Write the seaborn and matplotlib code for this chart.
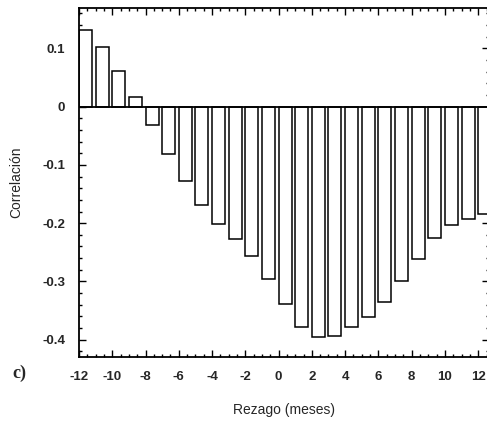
import numpy as np
import pandas as pd
import matplotlib
matplotlib.use("Agg")
import matplotlib.pyplot as plt
from matplotlib.ticker import FixedLocator, MultipleLocator
import seaborn as sns

# ---- data ----
lags = list(range(-12, 13))
correlation = [0.132, 0.102, 0.062, 0.016, -0.031, -0.082, -0.128, -0.168,
               -0.201, -0.227, -0.257, -0.296, -0.339, -0.378, -0.395, -0.394,
               -0.378, -0.361, -0.335, -0.299, -0.261, -0.225, -0.203, -0.192,
               -0.185]
xtick_values = list(range(-12, 13, 2))
ytick_values = [0.1, 0.0, -0.1, -0.2, -0.3, -0.4]
ytick_labels = ["0.1", "0", "-0.1", "-0.2", "-0.3", "-0.4"]
xlabel = "Rezago (meses)"
ylabel = "Correlación"
panel = "c)"

df = pd.DataFrame({"lag": lags, "corr": correlation})

sns.set_theme(style="ticks")
plt.rcParams["font.family"] = ["Liberation Sans", "DejaVu Sans"]

fig = plt.figure(figsize=(4.87, 4.21), dpi=100)
W, H = 487, 421
ax_l, ax_r, ax_t, ax_b = 79, 489, 8, 357
ax = fig.add_axes([ax_l / W, 1 - ax_b / H, (ax_r - ax_l) / W, (ax_b - ax_t) / H])

bw = 0.78
sns.barplot(data=df, x="lag", y="corr", order=lags, color="white",
            edgecolor="black", linewidth=1.1, width=bw, ax=ax, saturation=1)

half = bw / 2
def pos(v):
    return (v - lags[0]) - half

ax.axhline(0, color="black", lw=1.3, zorder=3)
ax.set_xlim(pos(-12), pos(12.65))
ax.set_ylim(-0.4297, 0.1694)

ax.xaxis.set_major_locator(FixedLocator([pos(v) for v in xtick_values]))
ax.set_xticklabels([str(v) for v in xtick_values])
ax.xaxis.set_minor_locator(FixedLocator([pos(v) for v in np.arange(-12, 12.7, 0.5)]))
ax.set_yticks(ytick_values)
ax.set_yticklabels(ytick_labels)
ax.yaxis.set_minor_locator(MultipleLocator(0.02))

ax.tick_params(which="both", direction="in", top=True, right=True, color="black")
ax.tick_params(which="major", length=5, width=1.0, labelsize=9.5)
ax.tick_params(which="minor", length=2.5, width=1.0)
ax.tick_params(axis="x", which="major", pad=10)
ax.tick_params(axis="y", which="major", pad=10)
for lab in ax.get_xticklabels() + ax.get_yticklabels():
    lab.set_fontweight("bold")
for s in ax.spines.values():
    s.set_linewidth(1.3)
    s.set_color("black")

ax.set_xlabel(xlabel, fontsize=10, va="center")
ax.set_ylabel(ylabel, fontsize=10, va="center")
ax.xaxis.set_label_coords(0.5, (ax_b - 410) / (ax_b - ax_t))
ax.yaxis.set_label_coords((16 - ax_l) / (ax_r - ax_l), 0.5)

fig.text(12 / W, 1 - 373 / H, panel, fontsize=13, fontweight="bold",
         family=["Liberation Serif", "DejaVu Serif"], va="center", ha="left")

fig.savefig("out.png", dpi=100)
